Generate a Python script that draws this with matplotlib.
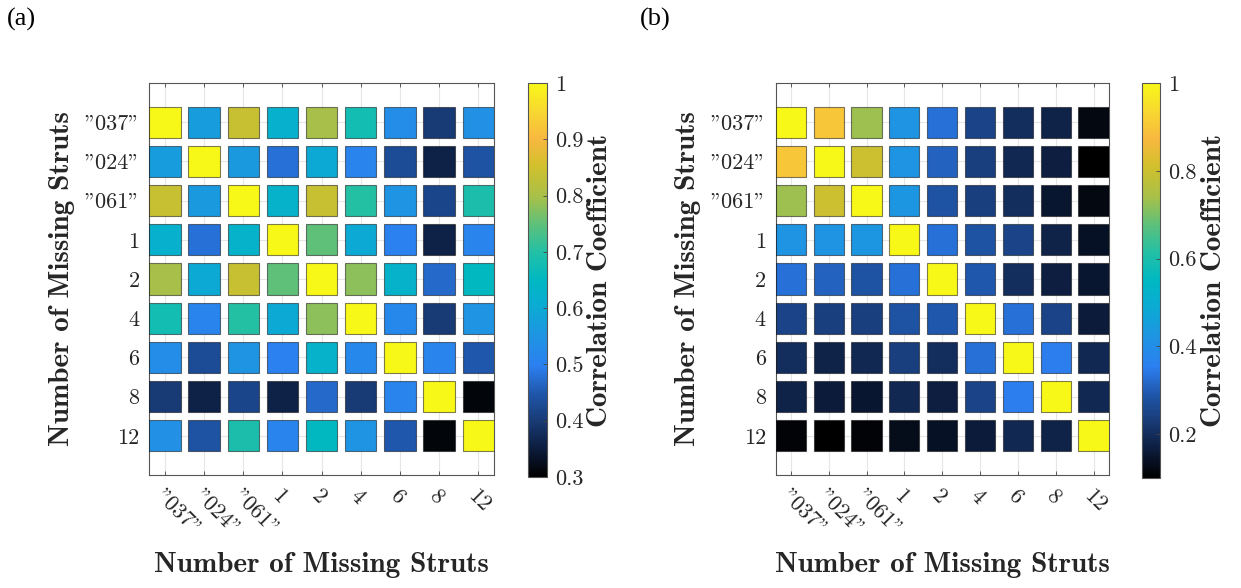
import numpy as np
import matplotlib
matplotlib.use('Agg')
import matplotlib.pyplot as plt
from matplotlib.colors import LinearSegmentedColormap, Normalize
from matplotlib.patches import Rectangle
from matplotlib.collections import PatchCollection
from matplotlib.cm import ScalarMappable

# --- data: correlation between struts-missing cases ---
labels = ['"037"', '"024"', '"061"', '1', '2', '4', '6', '8', '12']

corr_a = [
    [1.00, 0.57, 0.84, 0.62, 0.80, 0.68, 0.53, 0.40, 0.54],
    [0.57, 1.00, 0.56, 0.48, 0.60, 0.51, 0.43, 0.36, 0.44],
    [0.84, 0.56, 1.00, 0.63, 0.84, 0.70, 0.55, 0.42, 0.69],
    [0.62, 0.48, 0.63, 1.00, 0.75, 0.60, 0.50, 0.36, 0.51],
    [0.80, 0.60, 0.84, 0.75, 1.00, 0.78, 0.63, 0.47, 0.65],
    [0.68, 0.51, 0.70, 0.60, 0.78, 1.00, 0.52, 0.40, 0.55],
    [0.53, 0.43, 0.55, 0.50, 0.63, 0.52, 1.00, 0.51, 0.45],
    [0.40, 0.36, 0.42, 0.36, 0.47, 0.40, 0.51, 1.00, 0.31],
    [0.54, 0.44, 0.69, 0.51, 0.65, 0.55, 0.45, 0.31, 1.00],
]

corr_b = [
    [1.00, 0.90, 0.73, 0.42, 0.33, 0.25, 0.20, 0.18, 0.12],
    [0.90, 1.00, 0.80, 0.42, 0.31, 0.24, 0.19, 0.17, 0.10],
    [0.73, 0.80, 1.00, 0.43, 0.28, 0.24, 0.20, 0.15, 0.12],
    [0.42, 0.42, 0.43, 1.00, 0.33, 0.28, 0.25, 0.18, 0.14],
    [0.33, 0.31, 0.28, 0.33, 1.00, 0.29, 0.20, 0.17, 0.15],
    [0.25, 0.24, 0.24, 0.28, 0.29, 1.00, 0.33, 0.25, 0.16],
    [0.20, 0.18, 0.19, 0.24, 0.20, 0.33, 1.00, 0.35, 0.19],
    [0.18, 0.16, 0.15, 0.19, 0.17, 0.25, 0.35, 1.00, 0.19],
    [0.11, 0.10, 0.11, 0.13, 0.14, 0.16, 0.19, 0.18, 1.00],
]

range_a = (0.3, 1.0)
range_b = (0.1, 1.0)
cbar_ticks_a = [0.3, 0.4, 0.5, 0.6, 0.7, 0.8, 0.9, 1.0]
cbar_ticks_b = [0.2, 0.4, 0.6, 0.8, 1.0]

# black -> blue -> cyan -> green -> orange -> yellow
cmap = LinearSegmentedColormap.from_list('corr', [
    (0.00, '#000000'), (0.07, '#0c1c3c'), (0.14, '#183a74'), (0.21, '#1f56aa'),
    (0.28, '#2c7ff0'), (0.36, '#1d95e2'), (0.43, '#0caad4'), (0.50, '#00b8c2'),
    (0.57, '#22c0a6'), (0.64, '#5cc07c'), (0.71, '#a6c04a'), (0.79, '#d2c02c'),
    (0.86, '#f8b840'), (0.93, '#f8d830'), (1.00, '#f8f818'),
], N=256)

TXT = '#262626'
W, H = 1241, 588
fig = plt.figure(figsize=(W / 100, H / 100), dpi=100)


def draw_panel(ax_rect, cax_rect, corr, vrange, cticks, tag, tag_xy, ylab_x, clab_x):
    ax = fig.add_axes(ax_rect)
    cax = fig.add_axes(cax_rect)
    corr = np.asarray(corr)
    n = len(labels)
    norm = Normalize(*vrange)

    # one square per cell, coloured through the colormap
    rects, vals = [], []
    for i in range(n):
        for j in range(n):
            rects.append(Rectangle((j + 1 - 0.4, i + 1 - 0.4), 0.8, 0.8))
            vals.append(corr[i, j])
    pc = PatchCollection(rects, cmap=cmap, norm=norm, edgecolor=(0, 0, 0, 0.5),
                         linewidth=0.8, zorder=3)
    pc.set_array(np.array(vals))
    ax.add_collection(pc)

    ax.set_xlim(0.6, n + 0.4)
    ax.set_ylim(n + 1, 0)
    pos = np.arange(1, n + 1)
    ax.set_xticks(pos)
    ax.set_xticklabels(labels, rotation=-45, ha='left', va='top', rotation_mode='anchor',
                       family='cmr10', fontsize=16, color=TXT)
    ax.set_yticks(pos)
    ax.set_yticklabels(labels, family='cmr10', fontsize=16, color=TXT)
    ax.tick_params(direction='in', length=3, width=0.6, color='#444444',
                   top=True, right=True)
    ax.tick_params(axis='x', pad=8)
    ax.tick_params(axis='y', pad=7)
    ax.grid(True, color='#e6e6e6', linewidth=0.8)
    ax.set_axisbelow(True)
    for s in ax.spines.values():
        s.set_color('#555555')
        s.set_linewidth(0.8)

    ax.set_xlabel('Number of Missing Struts', family='cmb10', fontsize=21, color=TXT)
    ax.xaxis.set_label_coords(0.5, -0.23)
    ax.xaxis.label.set_va('center')
    ax.set_ylabel('Number of Missing Struts', family='cmb10', fontsize=21, color=TXT)
    ax.yaxis.set_label_coords(ylab_x, 0.5)
    ax.yaxis.label.set_va('center')

    # colorbar
    cb = fig.colorbar(ScalarMappable(norm=norm, cmap=cmap), cax=cax)
    cb.set_ticks(cticks, labels=[f'{t:g}' for t in cticks])
    cb.outline.set_edgecolor('#555555')
    cb.outline.set_linewidth(0.8)
    cax.tick_params(direction='in', length=3, width=0.6, color='#444444', pad=6)
    for t in cax.get_yticklabels():
        t.set_family('cmr10')
        t.set_fontsize(16)
        t.set_color(TXT)
    cax.set_ylabel('Correlation Coefficient', family='cmb10', fontsize=21, color=TXT)
    cax.yaxis.set_label_coords(clab_x, 0.5)
    cax.yaxis.label.set_va('center')

    fig.text(tag_xy[0], tag_xy[1], tag, family='Liberation Serif', fontsize=19,
             color='black', ha='left', va='center')
    return ax


# --- (a) ---
draw_panel([149.3 / W, 113 / H, 344.7 / W, 392 / H],
           [528 / W, 111 / H, 19 / W, 394 / H],
           corr_a, range_a, cbar_ticks_a, '(a)', (7 / W, 1 - 19 / H), -0.253, 3.79)

# --- (b) ---
draw_panel([775.7 / W, 113 / H, 333 / W, 392 / H],
           [1141.7 / W, 110 / H, 18.3 / W, 395 / H],
           corr_b, range_b, cbar_ticks_b, '(b)', (640 / W, 1 - 19 / H), -0.263, 3.95)

fig.savefig('out.png', dpi=100)
